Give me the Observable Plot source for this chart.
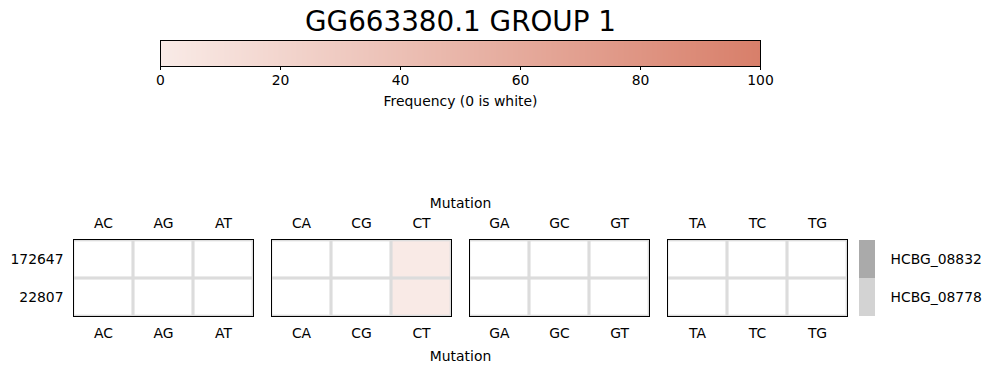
<!DOCTYPE html>
<html>
<head>
<meta charset="utf-8">
<script src="https://cdn.jsdelivr.net/npm/d3@7"></script>
<script src="https://cdn.jsdelivr.net/npm/@observablehq/plot@0.6"></script>
<style>
  html, body { margin: 0; padding: 0; background: #fff; }
  #chart { position: relative; width: 990px; height: 373px; font-family: "DejaVu Sans", sans-serif; }
  #chart > div, #chart > svg { position: absolute; }
</style>
</head>
<body>
<div id="chart"></div>
<script>
const title = "GG663380.1 GROUP 1";
const colorLabel = "Frequency (0 is white)";
const axisLabel = "Mutation";
const colorTicks = [0, 20, 40, 60, 80, 100];
const colorRange = ["#f9ebe7", "#d87f6a"];
const positions = ["172647", "22807"];
const groups = ["A", "C", "G", "T"];
const mutations = ["AC", "AG", "AT", "CA", "CG", "CT", "GA", "GC", "GT", "TA", "TC", "TG"];
const freq172647 = [0, 0, 0, 0, 0, 1, 0, 0, 0, 0, 0, 0];
const freq22807  = [0, 0, 0, 0, 0, 1, 0, 0, 0, 0, 0, 0];
const genomes = ["HCBG_08832", "HCBG_08778"];
const genomeColors = ["#aaaaaa", "#d3d3d3"];

const freqs = [freq172647, freq22807];
const rows = positions.flatMap((p, i) => mutations.map((m, j) => ({
  position: p, mutation: m, group: m[0], slot: j % 3, value: freqs[i][j]
})));

const chart = document.getElementById("chart");
const font = {fontFamily: "DejaVu Sans, sans-serif", fontSize: "13.9px", color: "black", background: "transparent"};

// Colour bar with title
const colorbar = Plot.plot({
  width: 990, height: 120,
  marginLeft: 160, marginRight: 230, marginTop: 40, marginBottom: 54,
  style: font,
  x: {domain: [0, 100], ticks: colorTicks, tickSize: 4, tickPadding: 5, label: null},
  y: {domain: [0, 1], axis: null},
  color: {type: "linear", domain: [0, 100], range: colorRange, interpolate: "rgb"},
  marks: [
    Plot.raster({fill: (x, y) => x, x1: 0, x2: 100, y1: 0, y2: 1, width: 600, height: 1, imageRendering: "auto"}),
    Plot.frame({stroke: "black", strokeWidth: 1}),
    Plot.text([title], {frameAnchor: "top", lineAnchor: "middle", dy: -18, fontSize: 27.8}),
    Plot.text([colorLabel], {frameAnchor: "bottom", lineAnchor: "middle", dy: 35})
  ]
});
colorbar.style.left = "0px"; colorbar.style.top = "0px";
chart.appendChild(colorbar);

// Heatmap panels
const cellOpts = {fx: "group", x: "slot", y: "position", inset: 0};
const heat = Plot.plot({
  width: 990, height: 253,
  marginLeft: 72, marginRight: 143, marginTop: 119, marginBottom: 57,
  style: font,
  fx: {domain: groups, axis: null, paddingInner: 0.0924, paddingOuter: 0},
  x: {domain: [0, 1, 2], axis: null, padding: 0},
  y: {domain: positions, padding: 0, tickSize: 0, tickPadding: 10, label: null},
  color: {type: "linear", domain: [0, 100], range: colorRange, interpolate: "rgb"},
  marks: [
    Plot.cell(rows, {...cellOpts, fill: "white"}),
    Plot.cell(rows.filter(d => d.value > 0), {...cellOpts, fill: "value"}),
    Plot.cell(rows, {...cellOpts, fill: "none", stroke: "#dcdcdc", strokeWidth: 2.7, clip: true}),
    Plot.frame({stroke: "black", strokeWidth: 1}),
    Plot.text(rows.filter(d => d.position === positions[0]), {fx: "group", x: "slot", text: "mutation", frameAnchor: "top", lineAnchor: "bottom", dy: -12}),
    Plot.text(rows.filter(d => d.position === positions[0]), {fx: "group", x: "slot", text: "mutation", frameAnchor: "bottom", lineAnchor: "top", dy: 12}),
    Plot.text([axisLabel], {facet: "super", frameAnchor: "top", lineAnchor: "middle", dy: -36}),
    Plot.text([axisLabel], {facet: "super", frameAnchor: "bottom", lineAnchor: "middle", dy: 40})
  ]
});
heat.style.left = "0px"; heat.style.top = "120px";
chart.appendChild(heat);

// Genome colour strip
const strip = Plot.plot({
  width: 131, height: 253,
  marginLeft: 0, marginRight: 115, marginTop: 119, marginBottom: 57,
  style: font,
  y: {domain: genomes, padding: 0, axis: "right", tickSize: 0, tickPadding: 15, label: null},
  marks: [
    Plot.cell(genomes, {y: d => d, fill: (d, i) => genomeColors[i], inset: 0})
  ]
});
strip.style.left = "859px"; strip.style.top = "120px";
chart.appendChild(strip);
</script>
</body>
</html>
